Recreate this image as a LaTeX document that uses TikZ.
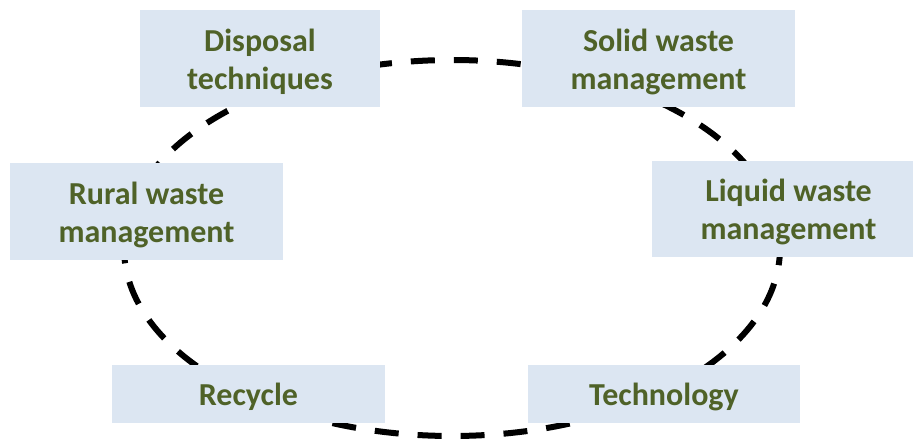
\documentclass[tikz,border=0pt]{standalone}
\usepackage{fontspec}
\setmainfont{Carlito}
\definecolor{boxfill}{HTML}{DCE6F2}
\definecolor{boxtext}{HTML}{4F6228}
\newcommand\wtext[1]{\begin{tabular}{@{}c@{}}\rule{0pt}{35pt}#1\end{tabular}}
\begin{document}
\begin{tikzpicture}[x=1pt,y=-1pt,
  wbox/.style={fill=boxfill, draw=none, inner sep=0pt,
    text=boxtext, font=\fontsize{32}{38}\selectfont\bfseries},
  oneline/.style={wbox, minimum height=58pt},
  twoline/.style={wbox, minimum height=97pt},
  ring/.style={line width=6pt, dash pattern=on 24pt off 19pt}]
\useasboundingbox (0,0) rectangle (913,443);
\coordinate (c) at (452,248);
\draw[ring] (c) ellipse [x radius=328pt, y radius=188pt];
\node[twoline, minimum width=240pt] (disp) at (260,59) {\wtext{Disposal\\techniques}};
\node[twoline, minimum width=273pt] (solid) at (658.5,59) {\wtext{Solid waste\\management}};
\node[twoline, minimum width=273pt, minimum height=96pt] (liquid) at (788.5,209) {\wtext{Liquid waste\\management}};
\node[twoline, minimum width=273pt] (rural) at (146.5,212) {\wtext{Rural waste\\management}};
\node[oneline, minimum width=273pt] (recycle) at (248.5,394) {\wtext{Recycle}};
\node[oneline, minimum width=272pt] (tech) at (664,394) {\wtext{Technology}};
\end{tikzpicture}
\end{document}
